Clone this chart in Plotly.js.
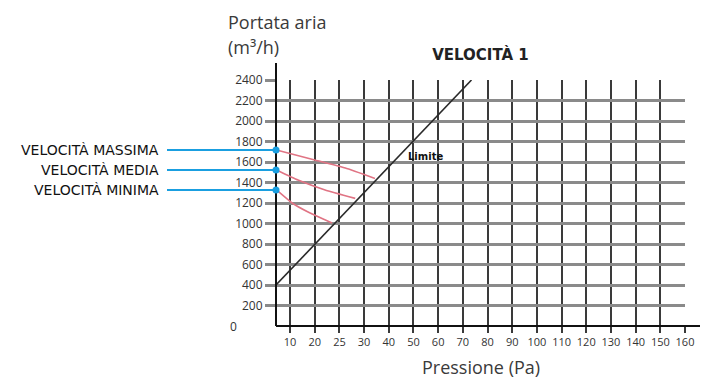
<!DOCTYPE html>
<html>
<head>
<meta charset="utf-8">
<script src="https://cdn.plot.ly/plotly-3.0.1.min.js"></script>
<style>html,body{margin:0;padding:0;background:#fff;}#chart{width:712px;height:380px;}</style>
</head>
<body>
<div id="chart"></div>
<script>
// Pressure tick labels (Pa) – evenly spaced on the chart
const pressTicks = [10, 20, 25, 30, 40, 50, 60, 70, 80, 90, 100, 110, 120, 130, 140, 150, 160];
// Air flow ticks (m³/h)
const flowTicks = [200, 400, 600, 800, 1000, 1200, 1400, 1600, 1800, 2000, 2200, 2400];

// Curves (pressure Pa, flow m³/h)
const maxP = [4.5, 20, 26.2, 34.4];
const maxQ = [1717, 1620, 1541, 1440];
const medP = [4.5, 13.2, 22.1, 28.2];
const medQ = [1522, 1424, 1327, 1245];
const minP = [4.5, 10.8, 17.3, 23.5];
const minQ = [1327, 1200, 1112, 1005];
const limitP = [4.3, 73.5];
const limitQ = [400, 2400];

const speedNames = ['VELOCITÀ MASSIMA', 'VELOCITÀ MEDIA', 'VELOCITÀ MINIMA'];

// map a pressure value to its position on the evenly spaced tick scale
function toIdx(p) {
  const t = pressTicks;
  if (p <= t[0]) return (p - t[0]) / 10;
  for (let i = 0; i < t.length - 1; i++) {
    if (p <= t[i + 1]) return i + (p - t[i]) / (t[i + 1] - t[i]);
  }
  return t.length - 1 + (p - t[t.length - 1]) / 10;
}

const red = '#e07484';
function curve(P, Q, name) {
  return {x: P.map(toIdx), y: Q, mode: 'lines', name: name, line: {color: red, width: 1.6, shape: 'spline', smoothing: 0.4}, hoverinfo: 'skip'};
}

const traces = [
  curve(maxP, maxQ, speedNames[0]),
  curve(medP, medQ, speedNames[1]),
  curve(minP, minQ, speedNames[2]),
  {x: limitP.map(toIdx), y: limitQ, mode: 'lines', name: 'Limite', line: {color: '#2a2a2a', width: 1.6}, hoverinfo: 'skip'}
];

const L = 276, R = 685, T = 80, B = 326;
const pw = R - L, ph = B - T;
const px = v => (v - L) / pw;
const py = v => (B - v) / ph;

const starts = [maxQ[0], medQ[0], minQ[0]];
const blue = '#1a9fe0';
const shapes = [
  // x axis line (extends right past the grid)
  {type: 'line', xref: 'paper', yref: 'paper', x0: 0, x1: px(700), y0: 0, y1: 0, line: {color: '#111', width: 2}},
  // y axis line (extends above the grid)
  {type: 'line', xref: 'paper', yref: 'paper', x0: 0, x1: 0, y0: 0, y1: py(63), line: {color: '#111', width: 2}}
];
const annotations = [];
starts.forEach((q, i) => {
  shapes.push({type: 'line', xref: 'paper', yref: 'y', x0: px(167), x1: 0, y0: q, y1: q, line: {color: blue, width: 2}});
  shapes.push({type: 'circle', xref: 'paper', yref: 'y', xsizemode: 'pixel', ysizemode: 'pixel', xanchor: 0, yanchor: q,
    x0: -3.5, x1: 3.5, y0: -3.5, y1: 3.5, fillcolor: blue, line: {color: blue, width: 0}});
  annotations.push({xref: 'paper', yref: 'y', x: px(161), y: q, xanchor: 'right', yanchor: 'middle', showarrow: false,
    text: speedNames[i], font: {family: 'DejaVu Sans', size: 14, color: '#111'}});
});
annotations.push(
  {xref: 'paper', yref: 'paper', x: px(226), y: py(22), xanchor: 'left', yanchor: 'middle', showarrow: false,
   text: 'Portata aria', font: {family: 'Open Sans', size: 18, color: '#3a3a3a'}},
  {xref: 'paper', yref: 'paper', x: px(226), y: py(47), xanchor: 'left', yanchor: 'middle', showarrow: false,
   text: '(m³/h)', font: {family: 'Open Sans', size: 18, color: '#3a3a3a'}},
  {xref: 'paper', yref: 'paper', x: 0.5, y: py(367), xanchor: 'center', yanchor: 'middle', showarrow: false,
   text: 'Pressione (Pa)', font: {family: 'Open Sans', size: 18, color: '#3a3a3a'}},
  {xref: 'x', yref: 'y', x: toIdx(54.7), y: 1650, xanchor: 'center', yanchor: 'middle', showarrow: false,
   text: 'Limite', font: {family: 'DejaVu Sans', size: 10, color: '#111', weight: 'bold'}},
  {xref: 'paper', yref: 'y', x: px(233), y: 0, xanchor: 'center', yanchor: 'middle', showarrow: false,
   text: '0', font: {family: 'Open Sans', size: 12, color: '#333'}}
);

const layout = {
  width: 712, height: 380,
  margin: {l: L, r: 712 - R, t: T, b: 380 - B, pad: 0},
  paper_bgcolor: '#fff', plot_bgcolor: '#fff',
  showlegend: false,
  title: {text: '<b>VELOCITÀ 1</b>', xref: 'paper', x: 0.5, xanchor: 'center', yref: 'container', y: 1 - 55 / 380, yanchor: 'middle',
    font: {family: 'DejaVu Sans', size: 15, color: '#222'}},
  xaxis: {
    range: [-0.57, pressTicks.length - 1],
    tickmode: 'array', tickvals: pressTicks.map((p, i) => i), ticktext: pressTicks.map(String),
    showgrid: true, gridcolor: '#3a3a3a', gridwidth: 2,
    ticks: 'outside', ticklen: 6, tickwidth: 2, tickcolor: '#3a3a3a',
    showline: false, zeroline: false,
    tickfont: {family: 'Open Sans', size: 11, color: '#333'}
  },
  yaxis: {
    range: [0, 2400],
    tickmode: 'array', tickvals: flowTicks, ticktext: flowTicks.map(String),
    showgrid: true, gridcolor: '#8a8a8a', gridwidth: 3,
    ticks: 'outside', ticklen: 10, tickwidth: 3, tickcolor: '#8a8a8a',
    showline: false, zeroline: false,
    tickfont: {family: 'Open Sans', size: 12, color: '#333'}
  },
  shapes: shapes,
  annotations: annotations
};

Plotly.newPlot('chart', traces, layout, {displayModeBar: false, staticPlot: true});
</script>
</body>
</html>
